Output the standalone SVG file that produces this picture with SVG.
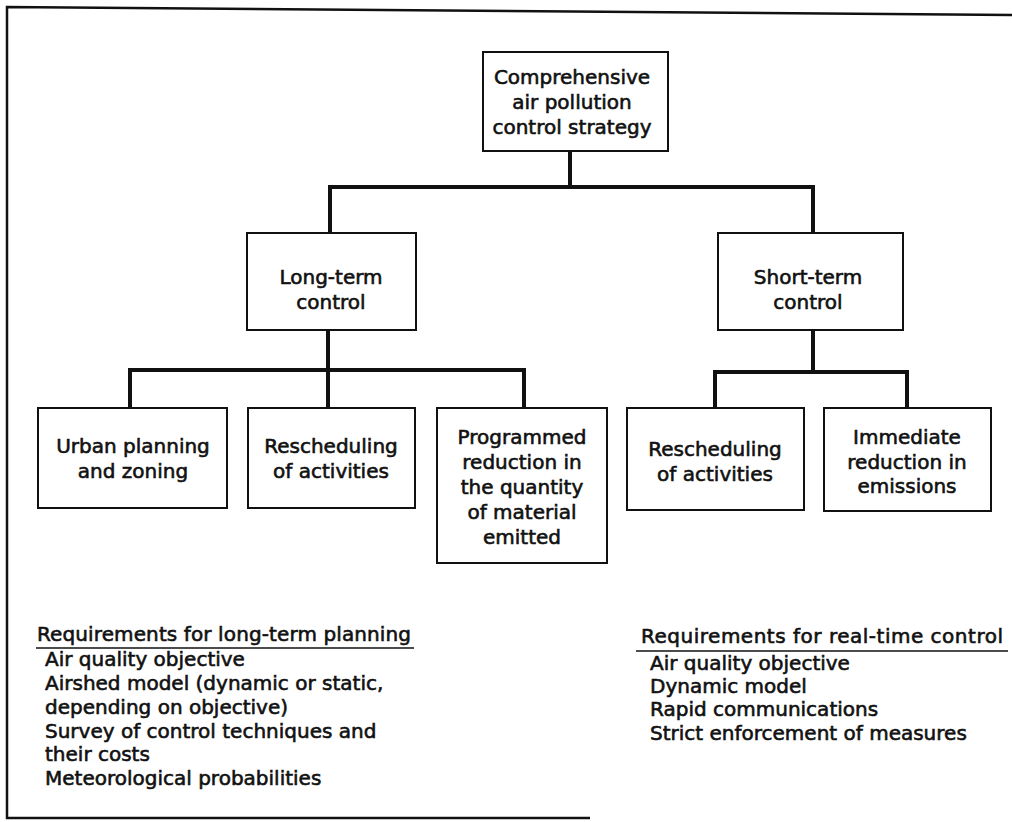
<svg xmlns="http://www.w3.org/2000/svg" width="1012" height="822" viewBox="0 0 1012 822">
  <style>
    .box { fill: #fff; stroke: #111; stroke-width: 2; }
    .link { fill: none; stroke: #111; stroke-width: 4; stroke-linecap: square; }
    .frame { fill: none; stroke: #111; stroke-width: 2.5; }
    text { font-family: "DejaVu Sans", "Liberation Sans", sans-serif; font-size: 20px; fill: #111; stroke: #111; stroke-width: 0.6; }
    .c { text-anchor: middle; }
    .rule { stroke: #111; stroke-width: 1.6; }
  </style>

  <rect width="1012" height="822" fill="#fff"/>

  <!-- page frame (open on the right) -->
  <polyline class="frame" points="1012,15 7,7 7,818 590,818"/>

  <!-- connectors -->
  <g id="connectors">
    <path class="link" d="M570,151 V187 M330,187 H813 M330,187 V233 M813,187 V233"/>
    <path class="link" d="M328,330 V370 M130,370 H524 M130,370 V408 M328,370 V408 M524,370 V408"/>
    <path class="link" d="M813,330 V372 M715,372 H907 M715,372 V408 M907,372 V408"/>
  </g>

  <g id="strategy">
    <rect class="box" x="483" y="52" width="185" height="99"/>
    <text class="c" x="572" y="84">Comprehensive</text>
    <text class="c" x="572" y="109">air pollution</text>
    <text class="c" x="572" y="134">control strategy</text>
  </g>

  <g id="long-term">
    <rect class="box" x="247" y="233" width="169" height="97"/>
    <text class="c" x="331" y="284">Long-term</text>
    <text class="c" x="331" y="309">control</text>
  </g>

  <g id="short-term">
    <rect class="box" x="718" y="233" width="185" height="97"/>
    <text class="c" x="808" y="284">Short-term</text>
    <text class="c" x="808" y="309">control</text>
  </g>

  <g id="urban-planning">
    <rect class="box" x="38" y="408" width="189" height="100"/>
    <text class="c" x="133" y="453">Urban planning</text>
    <text class="c" x="133" y="478">and zoning</text>
  </g>

  <g id="rescheduling-long">
    <rect class="box" x="248" y="408" width="167" height="100"/>
    <text class="c" x="331" y="453">Rescheduling</text>
    <text class="c" x="331" y="478">of activities</text>
  </g>

  <g id="programmed-reduction">
    <rect class="box" x="437" y="408" width="170" height="155"/>
    <text class="c" x="522" y="444">Programmed</text>
    <text class="c" x="522" y="469">reduction in</text>
    <text class="c" x="522" y="494">the quantity</text>
    <text class="c" x="522" y="519">of material</text>
    <text class="c" x="522" y="544">emitted</text>
  </g>

  <g id="rescheduling-short">
    <rect class="box" x="627" y="408" width="177" height="102"/>
    <text class="c" x="715" y="456">Rescheduling</text>
    <text class="c" x="715" y="481">of activities</text>
  </g>

  <g id="immediate-reduction">
    <rect class="box" x="824" y="408" width="167" height="103"/>
    <text class="c" x="907" y="444">Immediate</text>
    <text class="c" x="907" y="469">reduction in</text>
    <text class="c" x="907" y="493">emissions</text>
  </g>

  <g id="long-term-requirements">
    <text x="37" y="641" textLength="374">Requirements for long-term planning</text>
    <line class="rule" x1="36" y1="648" x2="414" y2="648"/>
    <text x="45" y="666">Air quality objective</text>
    <text x="45" y="690">Airshed model (dynamic or static,</text>
    <text x="45" y="714">depending on objective)</text>
    <text x="45" y="738">Survey of control techniques and</text>
    <text x="45" y="761">their costs</text>
    <text x="45" y="785">Meteorological probabilities</text>
  </g>

  <g id="real-time-requirements">
    <text x="641" y="643" textLength="362">Requirements for real-time control</text>
    <line class="rule" x1="636" y1="651" x2="1008" y2="651"/>
    <text x="650" y="670">Air quality objective</text>
    <text x="650" y="693">Dynamic model</text>
    <text x="650" y="716">Rapid communications</text>
    <text x="650" y="740">Strict enforcement of measures</text>
  </g>
</svg>
